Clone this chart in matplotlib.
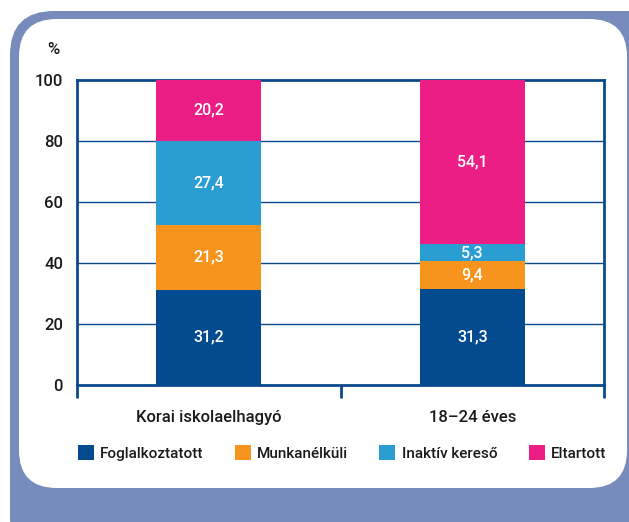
import matplotlib
matplotlib.use("Agg")
import matplotlib.pyplot as plt
from matplotlib.patches import FancyBboxPatch

# adatok
categories = ["Korai iskolaelhagyó", "18–24 éves"]
series_names = ["Foglalkoztatott", "Munkanélküli", "Inaktív kereső", "Eltartott"]
foglalkoztatott = [31.2, 31.3]
munkanelkuli = [21.3, 9.4]
inaktiv = [27.4, 5.3]
eltartott = [20.2, 54.1]
yticks = [0, 20, 40, 60, 80, 100]

colors = ["#044a8e", "#f7941d", "#2a9ed3", "#ec1e86"]
axis_blue = "#0b4a8c"
frame_color = "#778bbc"

plt.rcParams["font.family"] = ["Roboto", "DejaVu Sans"]
plt.rcParams["font.weight"] = "medium"
plt.rcParams["text.color"] = "#1a1a1a"

W, H = 629, 522
fig = plt.figure(figsize=(W / 100, H / 100), dpi=100)

# keret
outer = FancyBboxPatch((10 / W, -40 / H), 680 / W, (522 + 40 - 11) / H,
                       boxstyle="round,pad=0,rounding_size=0.07",
                       transform=fig.transFigure, facecolor=frame_color,
                       edgecolor="none", mutation_aspect=W / H, zorder=-2)
inner = FancyBboxPatch((19 / W, (522 - 488) / H), 608 / W, (488 - 19) / H,
                       boxstyle="round,pad=0,rounding_size=0.06",
                       transform=fig.transFigure, facecolor="white",
                       edgecolor="none", mutation_aspect=W / H, zorder=-1)
fig.patches.extend([outer, inner])

ax = fig.add_axes([77 / W, (522 - 385) / H, 527 / W, 305.5 / H])
ax.set_zorder(2)
ax.set_facecolor("none")

x = [0, 1]
width = 0.4
series = [foglalkoztatott, munkanelkuli, inaktiv, eltartott]
bottom = [0, 0]
bars = []
for vals, col, name in zip(series, colors, series_names):
    b = ax.bar(x, vals, width, bottom=bottom, color=col, label=name, zorder=3)
    bars.append(b)
    for xi, v, bo in zip(x, vals, bottom):
        ax.text(xi, bo + v / 2, f"{v:.1f}".replace(".", ","), ha="center",
                va="center", color="white", fontsize=11.5, zorder=4)
    bottom = [bo + v for bo, v in zip(bottom, vals)]

ax.set_xlim(-0.5, 1.5)
ax.set_ylim(0, 100)
ax.set_yticks(yticks)
ax.set_yticklabels([str(t) for t in yticks], fontsize=12)
ax.tick_params(axis="y", length=0, pad=10, labelcolor="#1a1a1a")
for t in yticks[1:-1]:
    ax.axhline(t, color=axis_blue, lw=1, zorder=1)

ax.set_xticks(x)
ax.set_xticklabels(categories, fontsize=12)
ax.set_xticks([-0.5, 0.5, 1.5], minor=True)
ax.tick_params(axis="x", which="major", length=0, pad=18, labelcolor="#1a1a1a")
ax.tick_params(axis="x", which="minor", length=9, width=2, color=axis_blue,
               direction="out")
for s in ax.spines.values():
    s.set_color(axis_blue)
    s.set_linewidth(2)

fig.text(53 / W, 1 - 50 / H, "%", ha="center", va="center", fontsize=12)

leg = fig.legend(handles=[b[0] for b in bars], labels=series_names, ncol=4,
                 loc="center left", bbox_to_anchor=(78 / W, 1 - 453 / H),
                 frameon=False, fontsize=11, handlelength=1.05,
                 handleheight=1.05, handletextpad=0.4, columnspacing=2.05,
                 borderaxespad=0, borderpad=0)
leg.set_zorder(3)

fig.savefig("out.png", dpi=100)
